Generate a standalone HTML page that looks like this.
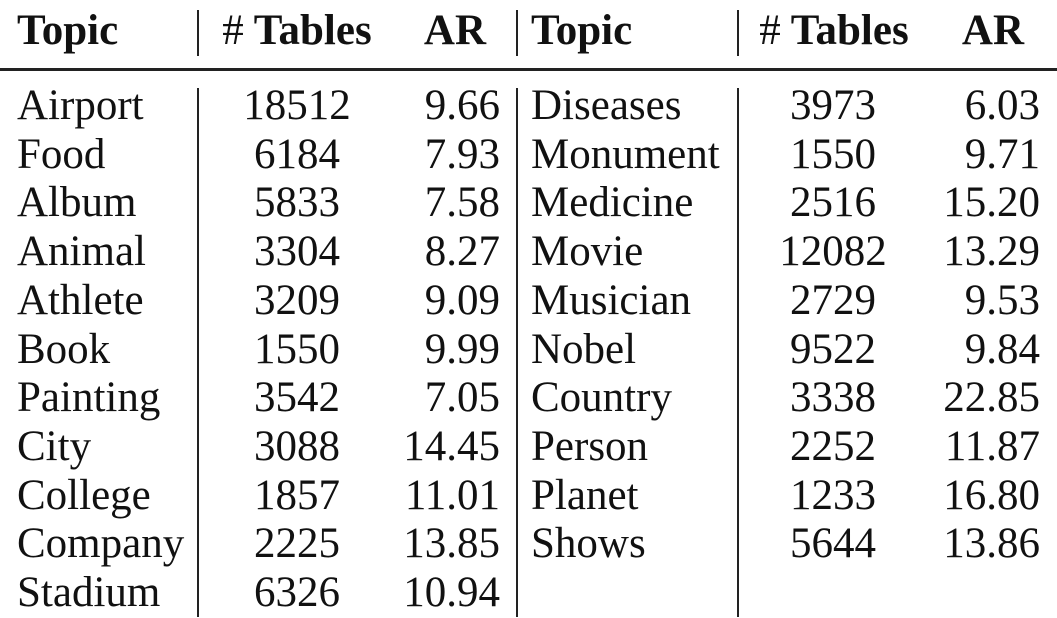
<!DOCTYPE html>
<html><head><meta charset="utf-8"><style>
body{margin:0;width:1057px;height:617px;background:#fff;overflow:hidden;position:relative;font-family:"Liberation Serif",serif;color:#111}
.c{position:absolute;font-size:43px;line-height:48.7px;white-space:nowrap}
.h{font-weight:bold;font-size:43px}
.h span{font-weight:normal}
.l{text-align:left}.m{text-align:center;transform:translateX(-50%)}.r{text-align:right;transform:translateX(-100%)}
.v{position:absolute;width:2px;background:#222}
</style></head><body>
<div id="t"></div>
<div style="position:absolute;left:0;top:68px;width:1057px;height:3px;background:#222"></div>
<script>
const left=[["Airport",18512,"9.66"],["Food",6184,"7.93"],["Album",5833,"7.58"],["Animal",3304,"8.27"],["Athlete",3209,"9.09"],["Book",1550,"9.99"],["Painting",3542,"7.05"],["City",3088,"14.45"],["College",1857,"11.01"],["Company",2225,"13.85"],["Stadium",6326,"10.94"]];
const right=[["Diseases",3973,"6.03"],["Monument",1550,"9.71"],["Medicine",2516,"15.20"],["Movie",12082,"13.29"],["Musician",2729,"9.53"],["Nobel",9522,"9.84"],["Country",3338,"22.85"],["Person",2252,"11.87"],["Planet",1233,"16.80"],["Shows",5644,"13.86"]];
const t=document.getElementById('t');
function cell(txt,x,y,cls,name,html){const d=document.createElement('div');d.className='c '+cls;d.style.left=x+'px';d.style.top=y+'px';if(html)d.innerHTML=txt;else d.textContent=txt;


t.appendChild(d);}
function vline(x,y1,y2){const d=document.createElement('div');d.className='v';d.style.left=x+'px';d.style.top=y1+'px';d.style.height=(y2-y1)+'px';


t.appendChild(d);}
const cols=[[17,297,500],[531,833,1040]];
const hdr=[[17,297,486],[531,834,1024]];
[left,right].forEach((rows,k)=>{const [a,b,c]=cols[k];const [ha,hb,hc]=hdr[k];
cell('Topic',ha,7,'h l','header-topic');cell('<span>#</span> Tables',hb,7,'h m','header-tables',true);cell('AR',hc,7,'h r','header-ar');
rows.forEach((r,i)=>{const y=82+i*48.7;cell(r[0],a,y,'l','topic-cell');cell(String(r[1]),b,y,'m','tables-cell');cell(r[2],c,y,'r','ar-cell');});});
[197,516,737].forEach(x=>{vline(x,10,56);vline(x,88,617);});
</script>
</body></html>
